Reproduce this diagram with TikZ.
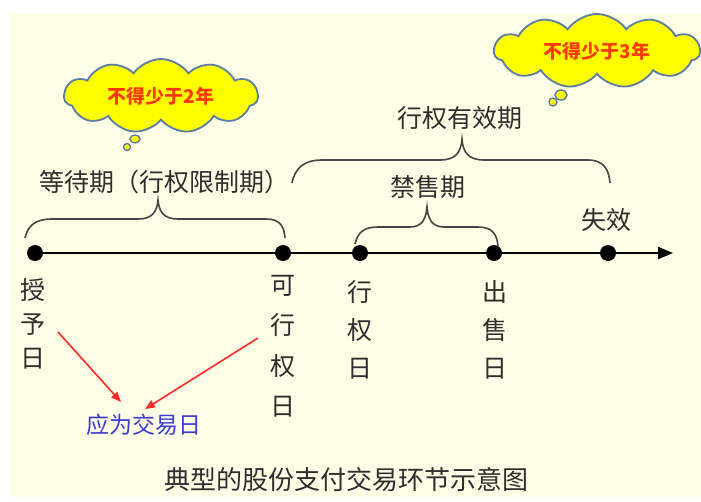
\documentclass[tikz,border=0pt]{standalone}
\usepackage{fontspec}
\setmainfont{Noto Sans CJK SC}
\usetikzlibrary{shapes.symbols,arrows.meta}
\definecolor{bgcream}{HTML}{FEFDE6}
\definecolor{inkgrey}{HTML}{2E2E2E}
\definecolor{bracegrey}{HTML}{454545}
\definecolor{cloudedge}{HTML}{5B7CA4}
\definecolor{cloudfill}{HTML}{FFFF00}
\definecolor{cloudtext}{HTML}{FF3A00}
\definecolor{bluetext}{HTML}{3B3BD2}
\definecolor{redline}{HTML}{FF2A2A}
\tikzset{
  label25/.style={text=inkgrey, inner sep=0pt, font=\fontsize{25}{30}\selectfont},
  vlabel/.style={text=inkgrey, inner sep=0pt, align=center, font=\fontsize{25}{#1}\selectfont},
  dotnode/.style={circle, fill=black, inner sep=0pt, minimum size=16pt},
  bracestyle/.style={draw=bracegrey, line width=1.6pt},
  cloudbox/.style={cloud, cloud puffs=11, cloud puff arc=110, cloud ignores aspect,
    draw=cloudedge, fill=cloudfill, line width=1.8pt, inner sep=0pt,
    text=cloudtext, font=\fontsize{19}{22}\selectfont\bfseries},
  bubble/.style={draw=cloudedge, fill=cloudfill, line width=1.4pt},
  redarrow/.style={draw=redline, line width=1.6pt, -{Triangle[length=10pt,width=8pt]}},
}
\begin{document}
\begin{tikzpicture}[x=1pt,y=-1pt]
\useasboundingbox (0,0) rectangle (701,501);
\fill[white] (0,0) rectangle (701,501);
\fill[bgcream] (10,13) rectangle (701,497);

% clouds
\node[cloudbox, minimum width=194pt, minimum height=74pt] (c1) at (161,96) {不得少于2年};
\draw[bubble] (135,139) ellipse [x radius=5, y radius=4];
\draw[bubble] (127,147) ellipse [x radius=3.5, y radius=3.5];
\node[cloudbox, minimum width=206pt, minimum height=74pt] (c2) at (597,51) {不得少于3年};
\draw[bubble] (561,95) ellipse [x radius=6, y radius=5];
\draw[bubble] (553,102) ellipse [x radius=4, y radius=4];

% timeline
\coordinate (tend) at (673,253);
\node[dotnode] (d1) at (35,253) {};
\node[dotnode] (d2) at (283,253) {};
\node[dotnode] (d3) at (360,253) {};
\node[dotnode] (d4) at (494,253) {};
\node[dotnode] (d5) at (608,253) {};
\draw[line width=2pt, -{Triangle[length=15pt,width=12pt]}] (d1.center) -- (tend);

% braces
\draw[bracestyle] (25,238) .. controls (28,225) and (36,219) .. (52,219) -- (138,219)
  .. controls (152,219) and (157,212) .. (158,200)
  .. controls (159,212) and (164,219) .. (178,219) -- (266,219)
  .. controls (280,219) and (284,226) .. (285,238);
\draw[bracestyle] (292,183) .. controls (295,168) and (304,160) .. (322,160) -- (440,160)
  .. controls (456,160) and (461,152) .. (462,139)
  .. controls (463,152) and (468,160) .. (484,160) -- (588,160)
  .. controls (604,160) and (609,170) .. (610,183);
\draw[bracestyle] (355,244) .. controls (358,232) and (364,227) .. (378,227) -- (410,227)
  .. controls (422,227) and (426,219) .. (427,207)
  .. controls (428,219) and (432,227) .. (444,227) -- (478,227)
  .. controls (492,227) and (497,234) .. (498,246);

% labels above
\node[label25] (wait) at (164,182) {等待期（行权限制期）};
\node[label25] (valid) at (460,118) {行权有效期};
\node[label25] (lock) at (428,187) {禁售期};
\node[label25] (expire) at (606,220) {失效};

% vertical labels
\node[vlabel=34] (grant) at (33,324) {授\\予\\日};
\node[vlabel=40.5] (vest) at (283,346) {可\\行\\权\\日};
\node[vlabel=38] (exer) at (360,330) {行\\权\\日};
\node[vlabel=38] (sell) at (495,330) {出\\售\\日};

% trading day
\node[text=bluetext, inner sep=0pt, font=\fontsize{23}{28}\selectfont] (trade) at (144,425) {应为交易日};
\coordinate (r1) at (58,332);
\coordinate (r2) at (258,338);
\draw[redarrow] (r1) -- ([xshift=-23pt,yshift=12pt]trade.north);
\draw[redarrow] (r2) -- ([xshift=1pt,yshift=5pt]trade.north);

% title
\node[label25, font=\fontsize{26}{30}\selectfont] (title) at (346,480) {典型的股份支付交易环节示意图};
\end{tikzpicture}
\end{document}
